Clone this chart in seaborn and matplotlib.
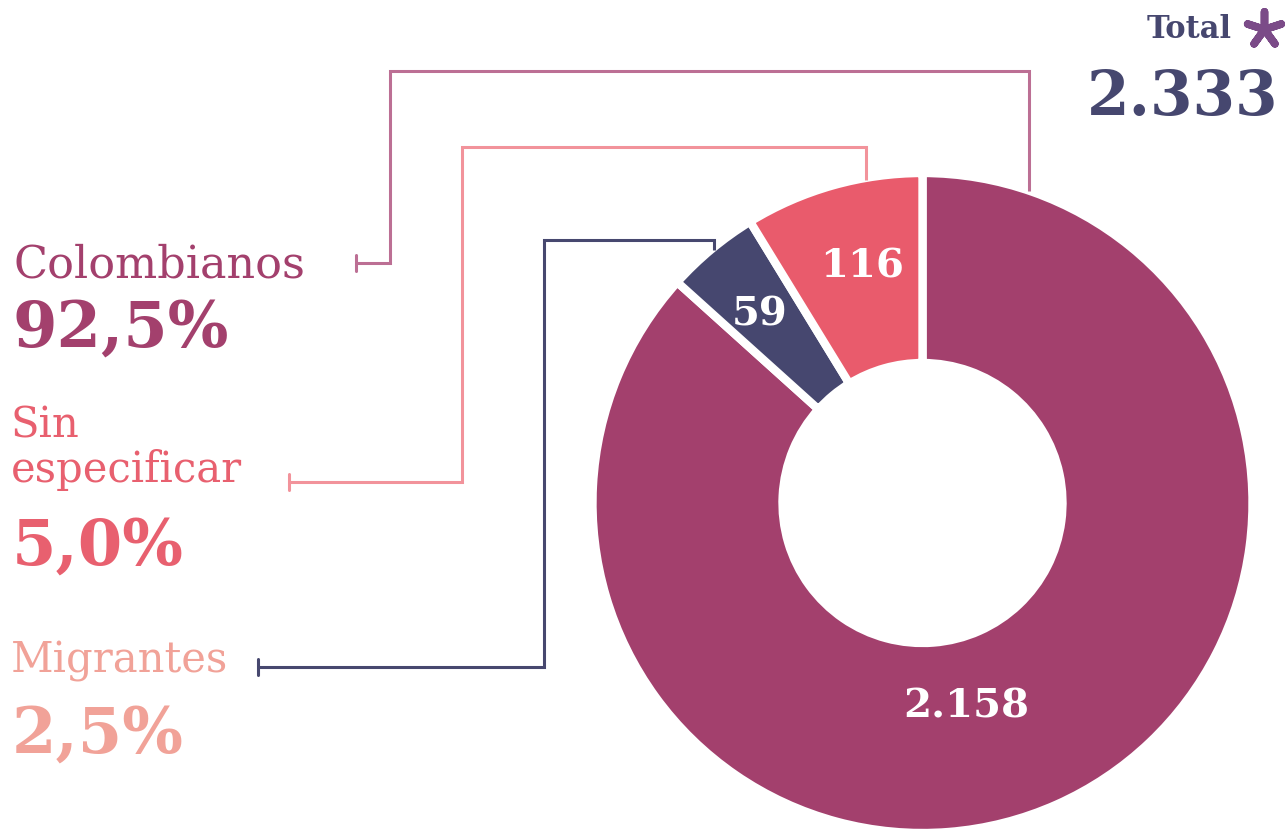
import matplotlib
matplotlib.use("Agg")
import matplotlib.pyplot as plt
import seaborn as sns

# Data read from the infographic
categories = ["Colombianos", "Migrantes", "Sin especificar"]
counts = [2158, 59, 116]
percent_labels = ["92,5%", "2,5%", "5,0%"]
total_label = "2.333"
count_labels = ["2.158", "59", "116"]
# The original graphic enlarges the two small slices; arc sizes (degrees) as drawn
drawn_arc_deg = [312, 16.5, 31.5]

slice_colors = ["#A3406D", "#46476F", "#E95B6C"]
text_colors = ["#A3406D", "#F1A298", "#E8606F"]
line_colors = ["#BC6F94", "#47486F", "#F2939B"]

sns.set_theme(style="white")
plt.rcParams["font.family"] = ["DejaVu Serif", "DejaVu Sans"]

W, H = 1285, 832


def Y(y):
    # pixel rows (top-down) -> axis units (bottom-up)
    return H - y


fig = plt.figure(figsize=(W / 100, H / 100), dpi=100)
ax = fig.add_axes([0, 0, 1, 1])

cx, cy, r_out, r_in = 922.5, 503, 330, 140
ax.pie(drawn_arc_deg, colors=sns.color_palette(slice_colors), startangle=90,
       counterclock=False, center=(cx, Y(cy)), radius=r_out,
       wedgeprops=dict(width=r_out - r_in, edgecolor="white", linewidth=6))

ax.set_xlim(0, W)
ax.set_ylim(0, H)
ax.set_aspect("equal")
ax.axis("off")

# counts inside the slices
num_font = dict(color="white", fontweight="bold", fontsize=29, ha="center", va="center")
ax.text(966, Y(706), count_labels[0], **num_font)
ax.text(760, Y(314), count_labels[1], **num_font)
ax.text(862, Y(266), count_labels[2], **num_font)

# connector paths: tick end, elbow x, top y, drop x, end y
connectors = {
    "Colombianos": ((356, 263), 390, 71, 1029, 191),
    "Migrantes": ((258, 667), 544, 240, 714, 250),
    "Sin especificar": ((289, 482), 462, 147, 866, 180),
}
for name, col in zip(categories, line_colors):
    (x0, y0), xe, yt, xd, yend = connectors[name]
    xs = [x0, xe, xe, xd, xd]
    ys = [y0, y0, yt, yt, yend]
    ax.plot(xs, [Y(v) for v in ys], color=col, lw=2.2, solid_capstyle="butt",
            solid_joinstyle="miter")
    ax.plot([x0, x0], [Y(y0 - 8), Y(y0 + 8)], color=col, lw=2.2)

# category labels
lab = dict(fontsize=30, ha="left", va="baseline")
pct = dict(fontsize=46, fontweight="bold", ha="left", va="baseline")
ax.text(13, Y(277), "Colombianos", color=text_colors[0], fontsize=32,
        ha="left", va="baseline")
ax.text(12, Y(347), percent_labels[0], color=text_colors[0], **pct)

ax.text(11, Y(437), "Sin", color=text_colors[2], **lab)
ax.text(11, Y(482), "especificar", color=text_colors[2], **lab)
ax.text(12, Y(565), percent_labels[2], color=text_colors[2], **pct)

ax.text(11, Y(673), "Migrantes", color=text_colors[1], **lab)
ax.text(12, Y(753), percent_labels[1], color=text_colors[1], **pct)

# total
ax.text(1232, Y(38), "Total", color="#46476F", fontsize=22, fontweight="bold",
        ha="right", va="baseline")
ax.scatter([1264], [Y(29)], marker=(5, 2, 0), s=650, linewidths=5.5,
           color="#7B4B88")
ax.text(1278, Y(115), total_label, color="#46476F", fontsize=44, fontweight="bold",
        ha="right", va="baseline")

fig.savefig("out.png", dpi=100)
